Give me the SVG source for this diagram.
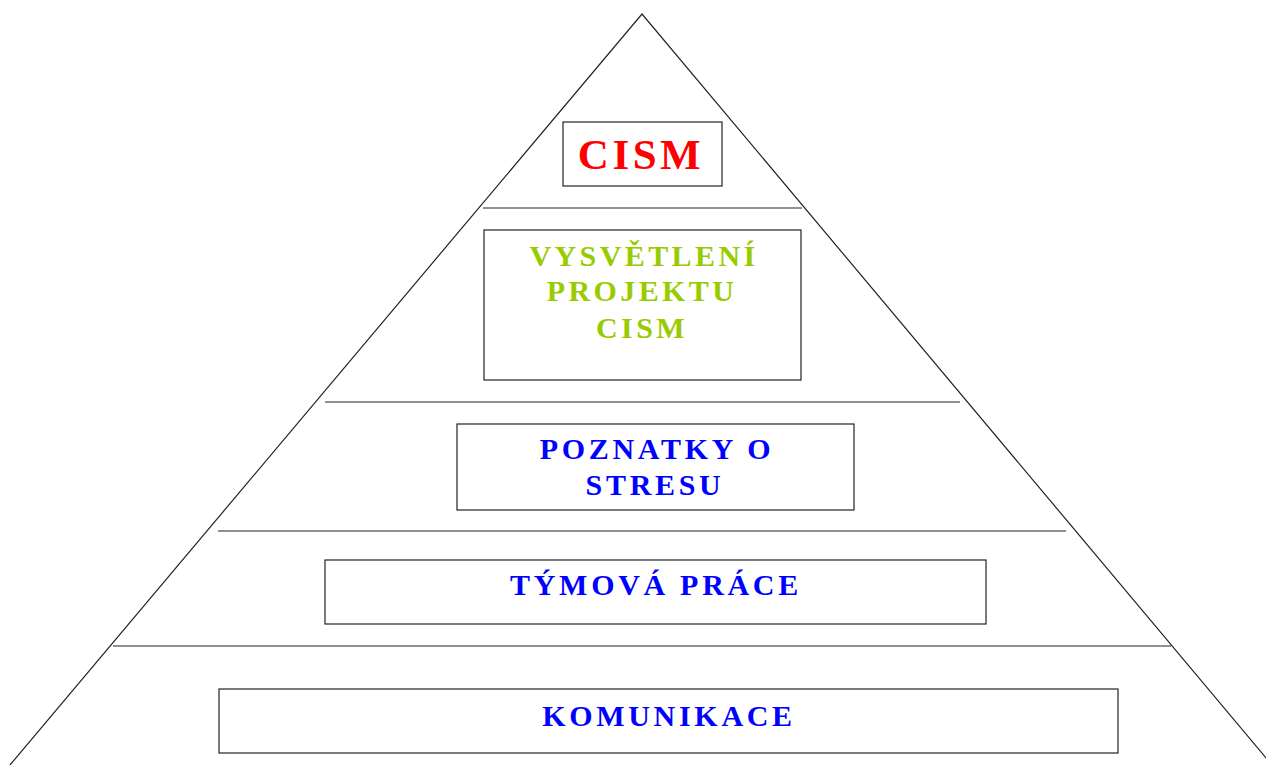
<svg xmlns="http://www.w3.org/2000/svg" width="1266" height="765" viewBox="0 0 1266 765">
<style>
.box{fill:#fff;stroke:#222;stroke-width:1.2}
.ln{stroke:#222;stroke-width:1.2;fill:none}
.t{font-family:"Liberation Serif","Times New Roman",serif;font-weight:bold;text-anchor:middle}
.red{fill:#ff0000;font-size:43px;letter-spacing:3.5px}
.grn{fill:#99cc00;font-size:30px;letter-spacing:3.4px}
.blu{fill:#0000ff;font-size:30px;letter-spacing:3.7px}
</style>
<rect width="1266" height="765" fill="#fff"/>
<g id="connectors">
<polyline class="ln" points="10,765 642,14 1272,765"/>
<line class="ln" x1="483" y1="208" x2="802" y2="208"/>
<line class="ln" x1="325" y1="402" x2="960" y2="402"/>
<line class="ln" x1="218" y1="531" x2="1066" y2="531"/>
<line class="ln" x1="113" y1="646" x2="1171" y2="646"/>
</g>
<g id="cism">
<rect class="box" x="563" y="122" width="159" height="64"/>
<text class="t red" x="641" y="169">CISM</text>
</g>
<g id="vysvetleni">
<rect class="box" x="484" y="230" width="317" height="150"/>
<text class="t grn" x="644" y="266">VYSVĚTLENÍ</text>
<text class="t grn" x="642" y="301">PROJEKTU</text>
<text class="t grn" x="642" y="338">CISM</text>
</g>
<g id="poznatky">
<rect class="box" x="457" y="424" width="397" height="86"/>
<text class="t blu" x="657" y="459">POZNATKY O</text>
<text class="t blu" x="655" y="495">STRESU</text>
</g>
<g id="tymova">
<rect class="box" x="325" y="560" width="661" height="64"/>
<text class="t blu" x="656" y="595">TÝMOVÁ PRÁCE</text>
</g>
<g id="komunikace">
<rect class="box" x="219" y="689" width="899" height="64"/>
<text class="t blu" x="669" y="726">KOMUNIKACE</text>
</g>
</svg>
